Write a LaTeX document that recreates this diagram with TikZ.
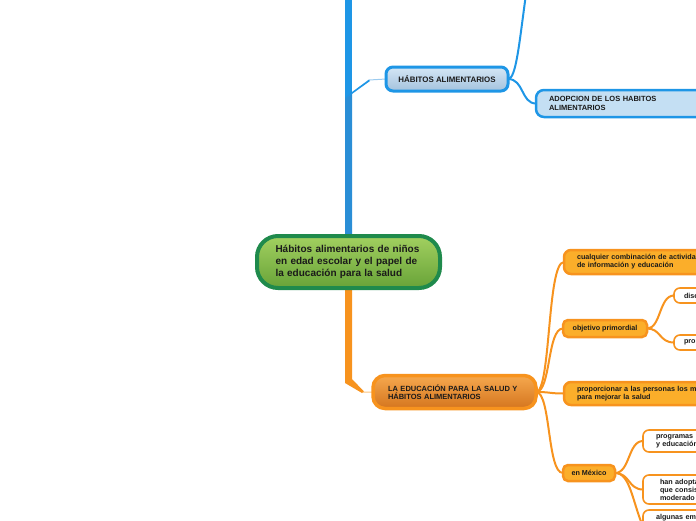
\documentclass[tikz,border=0pt]{standalone}
\usepackage{fontspec}
\setmainfont{Liberation Sans}
\usetikzlibrary{calc,backgrounds}
\definecolor{blueA}{HTML}{1E96E6}
\definecolor{blueB}{HTML}{2A8ED6}
\definecolor{blueThin}{HTML}{9CCBEF}
\definecolor{habTop}{HTML}{D4E6F5}
\definecolor{habBot}{HTML}{A4C2DD}
\definecolor{adopFill}{HTML}{C4DFF3}
\definecolor{greenTop}{HTML}{A2D060}
\definecolor{greenBot}{HTML}{68A338}
\definecolor{greenLine}{HTML}{1F8A4C}
\definecolor{orA}{HTML}{F7931E}
\definecolor{orThin}{HTML}{FBC37E}
\definecolor{eduTop}{HTML}{F5A84E}
\definecolor{eduBot}{HTML}{D4751E}
\definecolor{subFill}{HTML}{FBAE2A}
\definecolor{txt}{HTML}{1A1A1A}
\tikzset{
  bconn/.style={draw=blueA, line width=2pt},
  oconn/.style={draw=orA, line width=2pt},
  small/.style={font=\fontsize{7.2}{8}\selectfont\bfseries},
  caps/.style={font=\fontsize{7.5}{8.5}\selectfont\bfseries},
  subbox/.style={draw=orA, line width=2.5pt, fill=subFill, rounded corners=7pt, small, text=txt, align=left},
  whitebox/.style={draw=orA, line width=1.6pt, fill=white, rounded corners=6pt, small, text=txt, align=left},
}
\begin{document}
\begin{tikzpicture}[x=1pt,y=-1pt, every node/.style={inner sep=0pt, outer sep=0pt}]
\useasboundingbox (0,0) rectangle (696,520);

% central
\node[draw=greenLine, line width=4pt, top color=greenTop, bottom color=greenBot,
      rounded corners=21pt, minimum width=183pt, minimum height=52pt,
      text width=146pt, align=left, text=txt,
      font=\fontsize{10}{12}\selectfont\bfseries] (central) at (348.5,262)
  {Hábitos alimentarios de niños\\en edad escolar y el papel de\\la educación para la salud};

% blue branch
\node[draw=blueA, line width=3pt, top color=habTop, bottom color=habBot,
      rounded corners=7pt, minimum width=122pt, minimum height=24pt,
      font=\fontsize{7.9}{9}\selectfont\bfseries, text=txt] (hab) at (447,79)
  {HÁBITOS ALIMENTARIOS};
\node[draw=blueA, line width=2.5pt, fill=adopFill, rounded corners=8pt,
      anchor=west, minimum width=184pt, minimum height=27pt,
      text width=158pt, align=left, caps, text=txt] (adop) at (536,103.5)
  {ADOPCION DE LOS HABITOS\\ALIMENTARIOS};
\coordinate (habup) at (526,-6);

% orange branch
\node[draw=orA, line width=3.5pt, top color=eduTop, bottom color=eduBot,
      rounded corners=12pt, minimum width=163pt, minimum height=33pt,
      text width=133pt, align=left, caps, text=txt] (edu) at (454.5,392)
  {\mbox{LA EDUCACIÓN PARA LA SALUD Y}\\HÁBITOS ALIMENTARIOS};

\node[subbox, anchor=west, minimum width=170pt, minimum height=24pt, text width=144pt] (cual) at (564,262)
  {\mbox{cualquier combinación de actividad}\\de información y educación};
\node[subbox, rounded corners=5pt, minimum width=84pt, minimum height=17pt] (obj) at (605,328.5)
  {objetivo primordial};
\node[subbox, anchor=west, minimum width=170pt, minimum height=23pt, text width=144pt] (prop) at (564,393.5)
  {\mbox{proporcionar a las personas los me}\\para mejorar la salud};
\node[subbox, rounded corners=5pt, minimum width=52pt, minimum height=16pt] (mex) at (589,473)
  {en México};

\node[whitebox, anchor=west, minimum width=60pt, minimum height=15pt, text width=40pt] (dise) at (674,295.5)
  {dise};
\node[whitebox, anchor=west, minimum width=60pt, minimum height=15pt, text width=40pt] (prom) at (674,342.5)
  {prom};

\node[whitebox, anchor=west, minimum width=100pt, minimum height=22pt, text width=74pt] (progr) at (643,441)
  {\mbox{programas n}\\\mbox{y educación}};
\node[whitebox, anchor=west, minimum width=100pt, minimum height=29pt, text width=66pt] (han) at (643,489.5)
  {\mbox{han adopta}\\\mbox{que consis}\\moderado};
\node[whitebox, anchor=north west, minimum width=100pt, inner xsep=13pt, inner ysep=4pt,
      text height=5.5pt, text depth=20pt, text width=74pt] (alg) at (643,510)
  {\mbox{algunas em}};

\begin{scope}[on background layer]
  % blue trunk
  \fill[blueA] ($(central.north)+(-3.5,0)$) -- ++(0,-245) -- ++(7,0) -- ($(central.north)+(3.5,0)$) -- cycle;
  \fill[blueB] ($(central.north)+(-3.5,0)$) -- ($(central.north)+(-3.5,-138)$) -- ($(central.north)+(3.5,-144)$) -- ($(central.north)+(3.5,0)$) -- cycle;
  \fill[blueA] ($(central.north)+(3.5,-144)$) -- (369,79.5) -- (370,81) -- ($(central.north)+(-3.5,-137)$) -- cycle;
  \draw[blueThin, line width=1pt] (369,80) -- (hab.west);
  % orange trunk
  \fill[orA] ($(central.south)+(-3.5,0)$) -- ($(central.south)+(3.5,0)$) -- ($(central.south)+(3.5,91)$)
        -- (364,391.5) -- (362,393) -- ($(central.south)+(-3.5,95)$) -- cycle;
  \draw[orThin, line width=1pt] (363,392.2) -- (edu.west);

  % blue connectors
  \draw[bconn] (hab.east) .. controls (516,79) and (519,45) .. (habup);
  \draw[bconn] (hab.east) .. controls (524,79) and (521,103.5) .. (adop.west);

  % orange connectors
  \draw[oconn] (edu.east) .. controls (551,392) and (547,262) .. (cual.west);
  \draw[oconn] (edu.east) .. controls (551,392) and (547,328.5) .. (obj.west);
  \draw[oconn] (edu.east) .. controls (551,392) and (549,393.5) .. (prop.west);
  \draw[oconn] (edu.east) .. controls (551,392) and (547,473) .. (mex.west);

  \draw[oconn] (obj.east) .. controls (661,328.5) and (659,295.5) .. (dise.west);
  \draw[oconn] (obj.east) .. controls (661,328.5) and (659,342.5) .. (prom.west);

  \draw[oconn] (mex.east) .. controls (630,473) and (628,441) .. (progr.west);
  \draw[oconn] (mex.east) .. controls (630,473) and (628,489.5) .. (han.west);
  \draw[oconn] (mex.east) .. controls (630,473) and (632,500) .. (alg.west);
\end{scope}
\end{tikzpicture}
\end{document}
